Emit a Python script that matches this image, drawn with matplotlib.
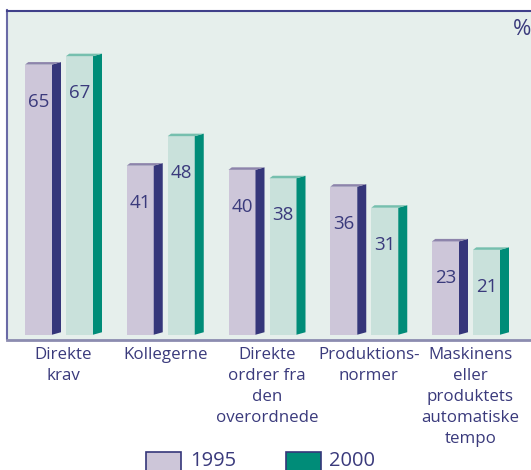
import matplotlib
matplotlib.use("Agg")
import matplotlib.pyplot as plt
from matplotlib.patches import Polygon, Rectangle

plt.rcParams['font.family'] = ['Open Sans', 'DejaVu Sans']

categories = ["Direkte\nkrav", "Kollegerne", "Direkte\nordrer fra\nden\noverordnede",
              "Produktions-\nnormer", "Maskinens\neller\nproduktets\nautomatiske\ntempo"]
years = ["1995", "2000"]
values_1995 = [65, 41, 40, 36, 23]
values_2000 = [67, 48, 38, 31, 21]
series = [values_1995, values_2000]

TEXT = '#3a3a7c'
BG = '#e6efec'
front_cols = ['#cdc6d9', '#c9e1db']
side_cols = ['#35367a', '#008c78']
top_cols = ['#8d84ab', '#76bfae']
legend_cols = ['#cdc6d9', '#008c78']

W, H = 531, 470
fig = plt.figure(figsize=(W / 100, H / 100), dpi=100)
fig.patch.set_facecolor('white')

ax_l, ax_r, ax_t, ax_b = 7, 540, 10.5, 339.5
ax = fig.add_axes([ax_l / W, (H - ax_b) / H, (ax_r - ax_l) / W, (ax_b - ax_t) / H])
ax.set_facecolor(BG)

px_per_x = 101.75
px_per_y = 4.21
x0_px = 63.5
ax.set_xlim((ax_l - x0_px) / px_per_x, (ax_r - x0_px) / px_per_x)
ax.set_ylim(-0.3, -0.3 + (ax_b - ax_t) / px_per_y)

fx = lambda p: p / px_per_x
fy = lambda p: p / px_per_y

front_w = fx(27)
side_w = fx(9)
depth = fy(2.5)
slant = fx(3.3)
offsets = [fx(-38.5), fx(2.5)]
base = fy(3.5)

for s, vals in enumerate(series):
    for i, v in enumerate(vals):
        xl = i + offsets[s]
        xr = xl + front_w
        ax.add_patch(Rectangle((xl, base), front_w, v - base, facecolor=front_cols[s],
                               edgecolor='none', zorder=2))
        ax.add_patch(Polygon([(xr, base), (xr, v), (xr + side_w, v + depth),
                              (xr + side_w, base + depth)], closed=True,
                             facecolor=side_cols[s], edgecolor='none', zorder=2))
        ax.add_patch(Polygon([(xl, v), (xl + slant, v + depth), (xr + side_w, v + depth),
                              (xr, v)], closed=True, facecolor=top_cols[s],
                             edgecolor='none', zorder=2))
        ax.text(xl + front_w / 2, v - fy(37), str(v), ha='center', va='center',
                fontsize=13.5, color=TEXT, zorder=3)

ax.set_xticks(range(len(categories)))
ax.set_xticklabels(categories, fontsize=12.2, color=TEXT, linespacing=1.42)
ax.tick_params(axis='x', length=0, pad=5.5)
ax.set_yticks([])

ax.spines['right'].set_visible(False)
ax.spines['top'].set_color('#40408a')
ax.spines['top'].set_linewidth(1.5)
ax.spines['left'].set_color('#6a6aa6')
ax.spines['left'].set_linewidth(1.5)
ax.spines['bottom'].set_color('#8c8cb0')
ax.spines['bottom'].set_linewidth(2)

fig.text(513 / W, (H - 35) / H, '%', fontsize=16, color=TEXT, ha='left', va='baseline')

# legend
sq_x = [145.7, 285.7]
tx_x = [190, 329]
for k, yr in enumerate(years):
    fig.add_artist(Rectangle((sq_x[k] / W, (H - 475) / H), 35.3 / W, 23.3 / H,
                             transform=fig.transFigure, facecolor=legend_cols[k],
                             edgecolor='#35367a', linewidth=1.2))
    fig.text(tx_x[k] / W, (H - 466.5) / H, yr, fontsize=14.5, color=TEXT,
             ha='left', va='baseline')

fig.savefig('out.png', dpi=100, facecolor='white')
